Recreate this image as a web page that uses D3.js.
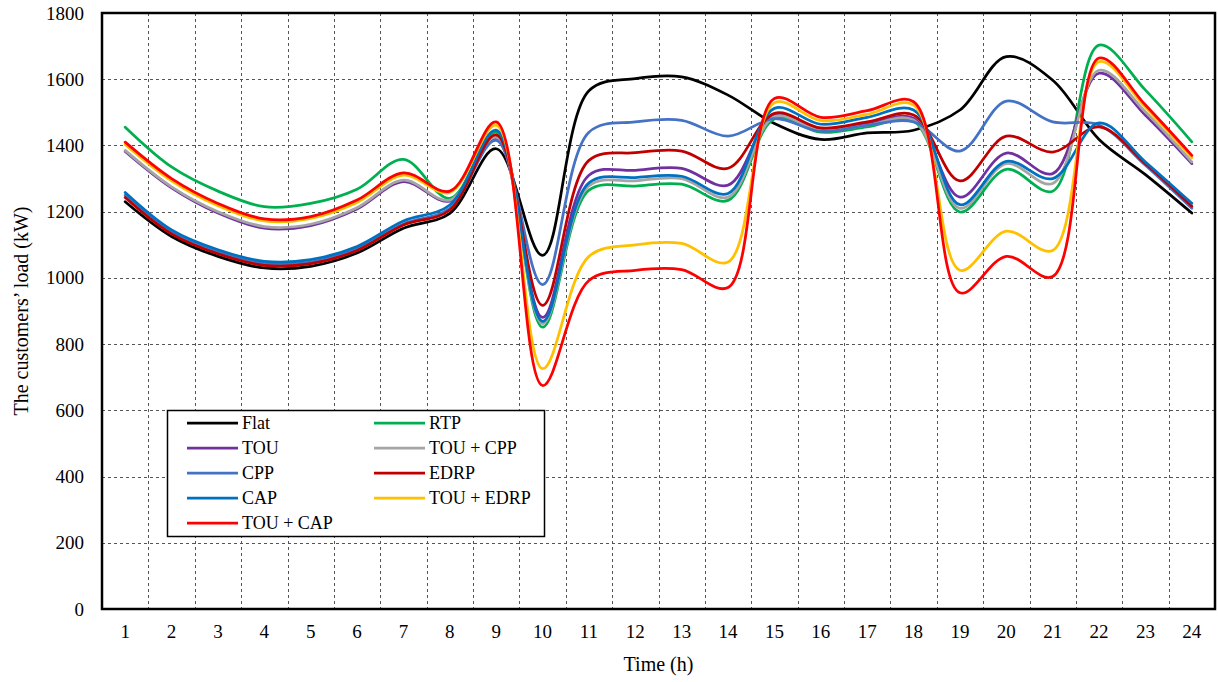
<!DOCTYPE html>
<html>
<head>
<meta charset="utf-8">
<script src="https://cdn.jsdelivr.net/npm/d3@7"></script>
<style>
  body { margin: 0; background: #fff; }
  svg { display: block; font-family: "Times New Roman", "Liberation Serif", serif; }
</style>
</head>
<body>
<svg id="chart" width="1218" height="682"></svg>
<script>
// Hours on the x axis
const hours = d3.range(1, 25);

// Load of the customers (kW) for every program
const flat     = [1230, 1125, 1065, 1030, 1035, 1075, 1150, 1195, 1390, 1068, 1565, 1602, 1607, 1552, 1466, 1418, 1438, 1446, 1507, 1668, 1597, 1418, 1312, 1196];
const rtp      = [1455, 1335, 1262, 1215, 1225, 1268, 1358, 1240, 1440, 851, 1265, 1277, 1283, 1234, 1480, 1440, 1456, 1474, 1199, 1328, 1262, 1703, 1567, 1411];
const tou      = [1382, 1272, 1196, 1150, 1158, 1208, 1291, 1232, 1420, 881, 1310, 1325, 1331, 1280, 1492, 1448, 1466, 1482, 1244, 1377, 1315, 1618, 1491, 1345];
const touCpp   = [1385, 1275, 1200, 1155, 1162, 1212, 1295, 1235, 1425, 862, 1278, 1293, 1300, 1244, 1487, 1445, 1461, 1477, 1210, 1345, 1285, 1627, 1501, 1350];
const cpp      = [1250, 1138, 1078, 1043, 1048, 1088, 1163, 1210, 1415, 980, 1440, 1471, 1476, 1428, 1481, 1443, 1461, 1471, 1383, 1534, 1471, 1462, 1340, 1210];
const edrp     = [1243, 1133, 1073, 1038, 1043, 1083, 1160, 1205, 1432, 917, 1355, 1378, 1383, 1331, 1497, 1453, 1471, 1492, 1293, 1428, 1380, 1456, 1345, 1216];
const cap      = [1258, 1145, 1085, 1050, 1055, 1095, 1172, 1220, 1446, 869, 1287, 1303, 1307, 1255, 1512, 1464, 1485, 1507, 1221, 1352, 1300, 1468, 1350, 1225];
const touEdrp  = [1403, 1293, 1218, 1172, 1180, 1228, 1310, 1258, 1461, 726, 1065, 1100, 1104, 1048, 1529, 1475, 1494, 1522, 1023, 1141, 1083, 1653, 1515, 1363];
const touCap   = [1410, 1300, 1225, 1178, 1185, 1235, 1317, 1262, 1471, 675, 992, 1023, 1025, 971, 1542, 1485, 1505, 1532, 955, 1065, 1004, 1664, 1522, 1370];

const seriesNames  = ["Flat", "RTP", "TOU", "TOU + CPP", "CPP", "EDRP", "CAP", "TOU + EDRP", "TOU + CAP"];
const seriesValues = [flat, rtp, tou, touCpp, cpp, edrp, cap, touEdrp, touCap];
const seriesColors = ["#000000", "#00B050", "#7030A0", "#A5A5A5", "#4472C4", "#C00000", "#0070C0", "#FFC000", "#FF0000"];

const yTicks = d3.range(0, 1801, 200);

// Plot area
const margin = { top: 13, right: 3, bottom: 73, left: 102 };
const W = 1218, H = 682;
const width = W - margin.left - margin.right;
const height = H - margin.top - margin.bottom;

const svg = d3.select("#chart");
const g = svg.append("g").attr("transform", `translate(${margin.left}, ${margin.top})`);

const x = d3.scaleBand().domain(hours).range([0, width]).padding(0);
const y = d3.scaleLinear().domain([0, 1800]).range([height, 0]);
const cx = h => x(h) + x.bandwidth() / 2;

// Horizontal grid lines
g.append("g")
  .selectAll("line")
  .data(yTicks.filter(v => v > 0 && v < 1800))
  .join("line")
  .attr("x1", 0).attr("x2", width)
  .attr("y1", d => Math.round(y(d)) + 0.5).attr("y2", d => Math.round(y(d)) + 0.5)
  .attr("stroke", "#555").attr("stroke-width", 1).attr("stroke-dasharray", "3,3");

// Vertical grid lines at the category boundaries
g.append("g")
  .selectAll("line")
  .data(hours.slice(1))
  .join("line")
  .attr("x1", d => Math.round(x(d)) + 0.5).attr("x2", d => Math.round(x(d)) + 0.5)
  .attr("y1", 0).attr("y2", height)
  .attr("stroke", "#555").attr("stroke-width", 1).attr("stroke-dasharray", "3,3");

// Axes
const yAxis = d3.axisLeft(y).tickValues(yTicks).tickFormat(d3.format("d")).tickSize(0).tickPadding(18);
const xAxis = d3.axisBottom(x).tickSize(0).tickPadding(16);

g.append("g").call(yAxis)
  .call(a => a.select(".domain").remove())
  .selectAll("text").style("font-size", "19px").attr("fill", "#000")
  .style("font-family", "\"Times New Roman\", \"Liberation Serif\", serif");

g.append("g").attr("transform", `translate(0, ${height})`).call(xAxis)
  .call(a => a.select(".domain").remove())
  .selectAll("text").style("font-size", "19px").attr("fill", "#000")
  .style("font-family", "\"Times New Roman\", \"Liberation Serif\", serif");

// Lines
const line = d3.line()
  .x((d, i) => cx(hours[i]))
  .y(d => y(d))
  .curve(d3.curveCatmullRom.alpha(0.5));

g.append("g")
  .selectAll("path")
  .data(seriesValues)
  .join("path")
  .attr("fill", "none")
  .attr("stroke", (d, i) => seriesColors[i])
  .attr("stroke-width", 2.75)
  .attr("stroke-linejoin", "round")
  .attr("stroke-linecap", "round")
  .attr("d", line);

// Plot border
g.append("rect")
  .attr("x", 0).attr("y", 0).attr("width", width).attr("height", height)
  .attr("fill", "none").attr("stroke", "#000").attr("stroke-width", 2.5);

// Axis titles
svg.append("text")
  .attr("x", margin.left + width / 2)
  .attr("y", 671)
  .attr("text-anchor", "middle")
  .style("font-size", "20px")
  .text("Time (h)");

svg.append("text")
  .attr("transform", `translate(28, ${margin.top + height / 2}) rotate(-90)`)
  .attr("text-anchor", "middle")
  .style("font-size", "20px")
  .text("The customers’ load (kW)");

// Legend
const legend = svg.append("g");
legend.append("rect")
  .attr("x", 167.5).attr("y", 410.5).attr("width", 377).attr("height", 126)
  .attr("fill", "#fff").attr("stroke", "#000").attr("stroke-width", 1.5);

const cols = [{ lx: 187, tx: 242 }, { lx: 374, tx: 429 }];
seriesNames.forEach((name, i) =>
{
  const c = cols[i % 2];
  const ry = 423 + Math.floor(i / 2) * 25;
  legend.append("line")
    .attr("x1", c.lx).attr("x2", c.lx + 51)
    .attr("y1", ry).attr("y2", ry)
    .attr("stroke", seriesColors[i]).attr("stroke-width", 2.75);
  legend.append("text")
    .attr("x", c.tx).attr("y", ry + 6)
    .style("font-size", "18px")
    .text(name);
});
</script>
</body>
</html>
